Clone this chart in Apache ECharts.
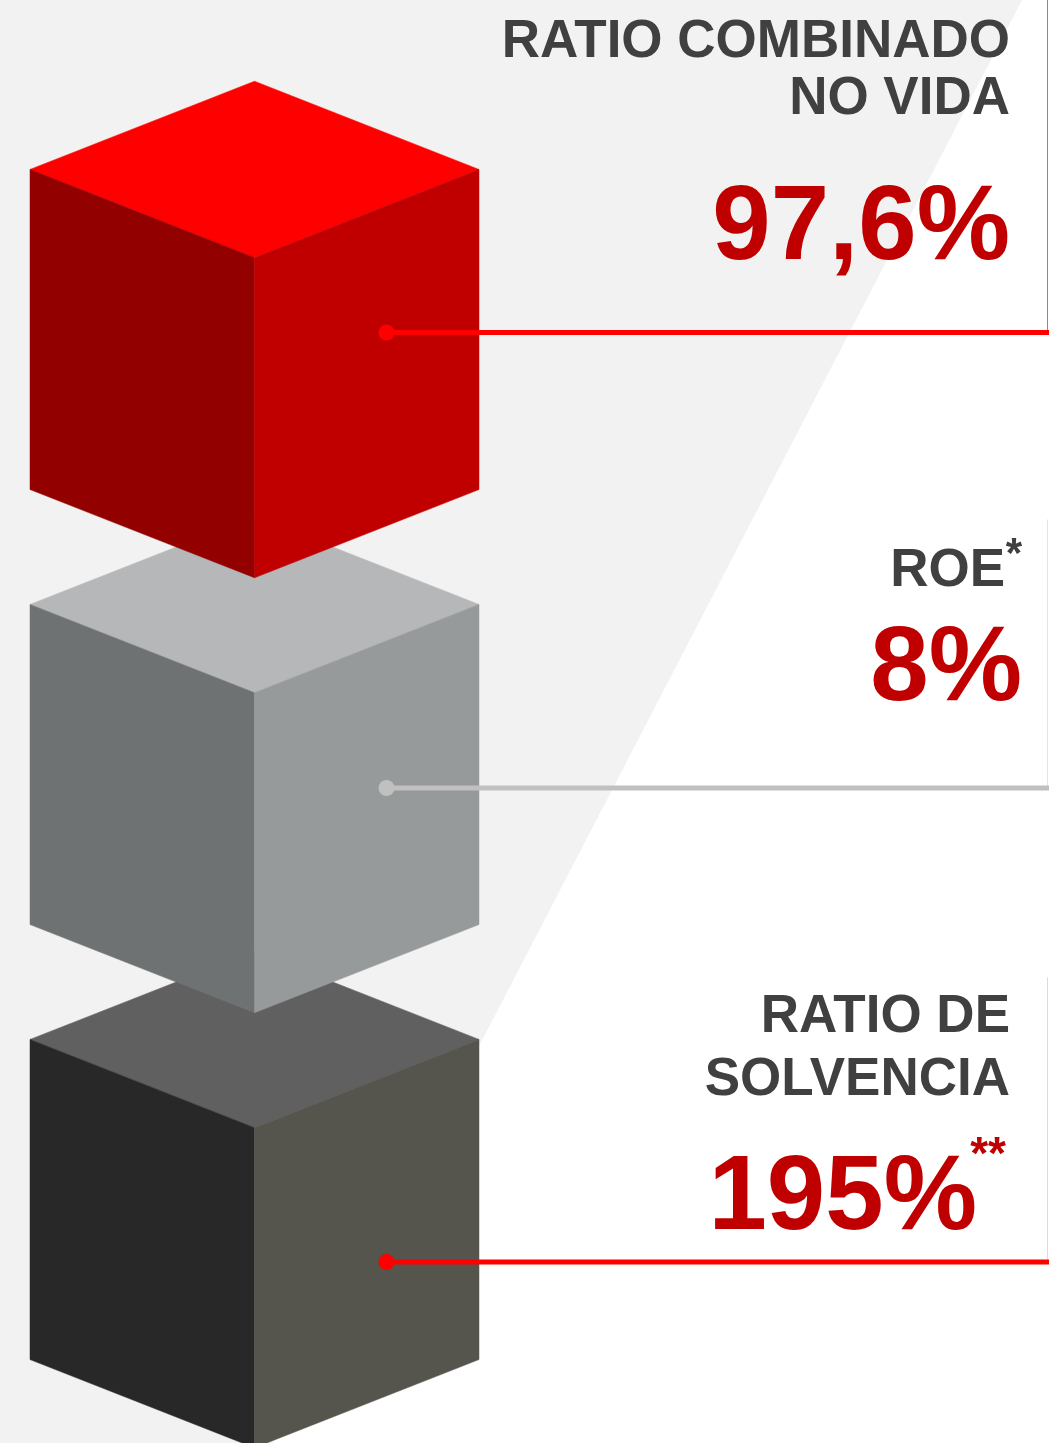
<!DOCTYPE html>
<html>
<head>
<meta charset="utf-8">
<script src="https://cdn.jsdelivr.net/npm/echarts@6/dist/echarts.min.js"></script>
<style>
html,body{margin:0;padding:0;background:#fff}
#main{width:1049px;height:1443px}
</style>
</head>
<body>
<div id="main"></div>
<script>
var labels = ['RATIO COMBINADO\nNO VIDA', 'ROE', 'RATIO DE\nSOLVENCIA'];
var values = ['97,6%', '8%', '195%'];
var notes = ['', '*', '**'];

/*colores de caras: arriba, izquierda, derecha*/
var faceColors = [
    ['#ff0000', '#920000', '#c00000'],
    ['#b6b7b8', '#6f7272', '#979a9a'],
    ['#606060', '#282828', '#56554d']
];
var leaderColors = ['#ff0000', '#c0c0c0', '#ff0000'];
var edgeColors = ['#ff5a5a', '#e4e4e4', '#f7cfcf'];

/*posiciones de texto, relativas al centro de cada cubo*/
var slots = [
    {lab: [-272.5, -215.5], val: -67.5, labR: 1010, valR: 1010, lead: 3, edge: -330},
    {lab: [-178.5], val: -61.5, labR: 1005, valR: 1022, noteR: 1022, noteBase: -197.5, noteSize: 42, noteColor: '#404040', lead: 23.5, edge: -245},
    {lab: [-167.5, -104.5], val: 32.5, labR: 1010, valR: 977, noteR: 1006, noteBase: -30.5, noteSize: 46, noteColor: '#c00000', lead: 62.5, edge: -222}
];
var FONT = '"Liberation Sans", Arial, sans-serif';

function poly(points, color) {
    return {
        type: 'polygon',
        shape: {points: points},
        style: {fill: color, stroke: color, lineWidth: 0.5}
    };
}
function txt(right, base, str, size, color) {
    return {
        type: 'text',
        x: right,
        y: base - 0.32 * size + 2,
        style: {
            text: str,
            fill: color,
            font: 'bold ' + size + 'px ' + FONT,
            align: 'right',
            verticalAlign: 'middle'
        }
    };
}

function renderItem(params, api) {
    var i = api.value(1);
    var c = api.coord([0, i]);
    var size = api.size([1, 1]);
    var hw = size[0] / 2, dh = hw * 0.393, eh = size[1] * 0.736;
    var cx = c[0], cy = c[1];
    var T = [cx, cy - eh / 2 - dh], LT = [cx - hw, cy - eh / 2], RT = [cx + hw, cy - eh / 2];
    var F = [cx, cy - eh / 2 + dh], LB = [cx - hw, cy + eh / 2], RB = [cx + hw, cy + eh / 2];
    var B = [cx, cy + eh / 2 + dh];
    var col = faceColors[i], s = slots[i], W = api.getWidth();
    var dotX = cx + hw * 0.588, ly = cy + s.lead;
    var kids = [
        poly([T, RT, F, LT], col[0]),
        poly([LT, F, B, LB], col[1]),
        poly([F, RT, RB, B], col[2]),
        {type: 'line', shape: {x1: W - 1.5, y1: cy + s.edge, x2: W - 1.5, y2: ly}, style: {stroke: edgeColors[i], lineWidth: 1}},
        {type: 'line', shape: {x1: dotX, y1: ly, x2: W, y2: ly}, style: {stroke: leaderColors[i], lineWidth: 5}},
        {type: 'circle', shape: {cx: dotX, cy: ly, r: 8}, style: {fill: leaderColors[i]}}
    ];
    var lines = labels[i].split('\n');
    for (var k = 0; k < lines.length; k++) {
        kids.push(txt(s.labR, cy + s.lab[k], lines[k], 53, '#404040'));
    }
    kids.push(txt(s.valR, cy + s.val, values[i], 105, '#c00000'));
    if (notes[i]) {
        kids.push(txt(s.noteR, cy + s.noteBase, notes[i], s.noteSize, s.noteColor));
    }
    return {type: 'group', children: kids};
}

var myChart = echarts.init(document.getElementById('main'));
var seriesData = labels.map(function (l, i) { return [0, i]; }).reverse();
var option = {
    animation: false,
    backgroundColor: '#ffffff',
    graphic: [{
        type: 'polygon',
        z: -10,
        silent: true,
        shape: {points: [[0, 0], [1022, 0], [273, 1443], [0, 1443]]},
        style: {fill: '#f2f2f2'}
    }],
    grid: {left: 30, right: 570, top: 112, bottom: 26},
    xAxis: {type: 'category', data: [''], show: false},
    yAxis: {type: 'category', data: labels, inverse: true, show: false},
    series: [{
        type: 'custom',
        clip: false,
        renderItem: renderItem,
        data: seriesData
    }]
};
myChart.setOption(option);
</script>
</body>
</html>
